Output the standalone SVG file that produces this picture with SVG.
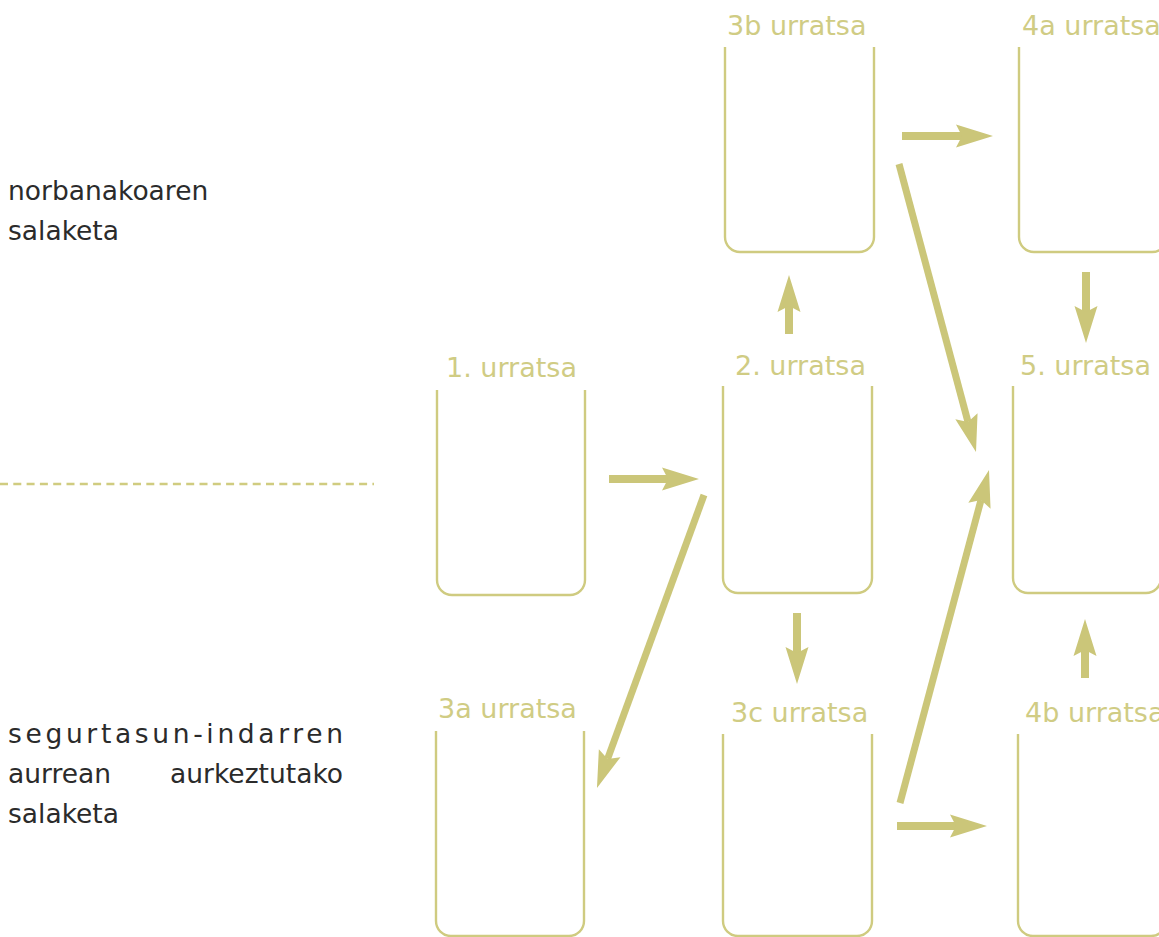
<svg xmlns="http://www.w3.org/2000/svg" width="1159" height="937" viewBox="0 0 1159 937">
<style>
.box{fill:none;stroke:#cfcb80;stroke-width:2.4}
.lbl{font-family:"DejaVu Sans",Verdana,sans-serif;font-size:27px;fill:#d0cc84}
.side{font-family:"DejaVu Sans",Verdana,sans-serif;font-size:26.5px;fill:#2b2b2b}
.arr{fill:none;stroke:#cbc679;stroke-width:8;marker-end:url(#ah)}
.diag{stroke-width:7}
.dash{fill:none;stroke:#d0cc80;stroke-width:2.6;stroke-dasharray:8 5.3}
</style>
<defs>
<marker id="ah" markerUnits="userSpaceOnUse" markerWidth="40" markerHeight="24" refX="6" refY="11.5" orient="auto" overflow="visible">
<path d="M0,0 L37,11.5 L0,23 L6,11.5 Z" fill="#cbc679"/>
</marker>
</defs>
<rect width="1159" height="937" fill="#ffffff"/>

<g id="side-labels">
<text class="side" x="8" y="200">norbanakoaren</text>
<text class="side" x="8" y="240">salaketa</text>
<text class="side" x="8" y="743" textLength="335" lengthAdjust="spacing">segurtasun-indarren</text>
<text class="side" x="8" y="783">aurrean</text>
<text class="side" x="343" y="783" text-anchor="end">aurkeztutako</text>
<text class="side" x="8" y="823">salaketa</text>
</g>

<line id="divider" class="dash" x1="0" y1="484" x2="374" y2="484"/>

<g id="step1">
<path class="box" d="M437,390 V580 A15,15 0 0 0 452,595 H570 A15,15 0 0 0 585,580 V390"/>
<text class="lbl" x="446" y="377">1. urratsa</text>
</g>
<g id="step2">
<path class="box" d="M723,386 V578 A15,15 0 0 0 738,593 H857 A15,15 0 0 0 872,578 V386"/>
<text class="lbl" x="735" y="375">2. urratsa</text>
</g>
<g id="step3a">
<path class="box" d="M436,731 V921 A15,15 0 0 0 451,936 H569 A15,15 0 0 0 584,921 V731"/>
<text class="lbl" x="438" y="718">3a urratsa</text>
</g>
<g id="step3b">
<path class="box" d="M725,47 V237 A15,15 0 0 0 740,252 H859 A15,15 0 0 0 874,237 V47"/>
<text class="lbl" x="727" y="35">3b urratsa</text>
</g>
<g id="step3c">
<path class="box" d="M723,734 V921 A15,15 0 0 0 738,936 H857 A15,15 0 0 0 872,921 V734"/>
<text class="lbl" x="731" y="722">3c urratsa</text>
</g>
<g id="step4a">
<path class="box" d="M1019,47 V237 A15,15 0 0 0 1034,252 H1152 A15,15 0 0 0 1167,237 V47"/>
<text class="lbl" x="1022" y="35">4a urratsa</text>
</g>
<g id="step4b">
<path class="box" d="M1018,734 V921 A15,15 0 0 0 1033,936 H1151 A15,15 0 0 0 1166,921 V734"/>
<text class="lbl" x="1025" y="722">4b urratsa</text>
</g>
<g id="step5">
<path class="box" d="M1013,386 V578 A15,15 0 0 0 1028,593 H1146 A15,15 0 0 0 1161,578 V386"/>
<text class="lbl" x="1020" y="375">5. urratsa</text>
</g>

<g id="connectors">
<line class="arr" x1="609" y1="479" x2="668" y2="479"/>
<line class="arr" x1="902" y1="136" x2="962" y2="136"/>
<line class="arr" x1="897" y1="826" x2="956" y2="826"/>
<line class="arr" x1="789" y1="334" x2="789" y2="306"/>
<line class="arr" x1="797" y1="613" x2="797" y2="653"/>
<line class="arr" x1="1086" y1="272" x2="1086" y2="312"/>
<line class="arr" x1="1085" y1="678" x2="1085" y2="650"/>
<line class="arr diag" x1="704" y1="495" x2="607.6" y2="758.9"/>
<line class="arr diag" x1="899" y1="164" x2="968" y2="422"/>
<line class="arr diag" x1="900" y1="803" x2="981" y2="500"/>
</g>
</svg>
